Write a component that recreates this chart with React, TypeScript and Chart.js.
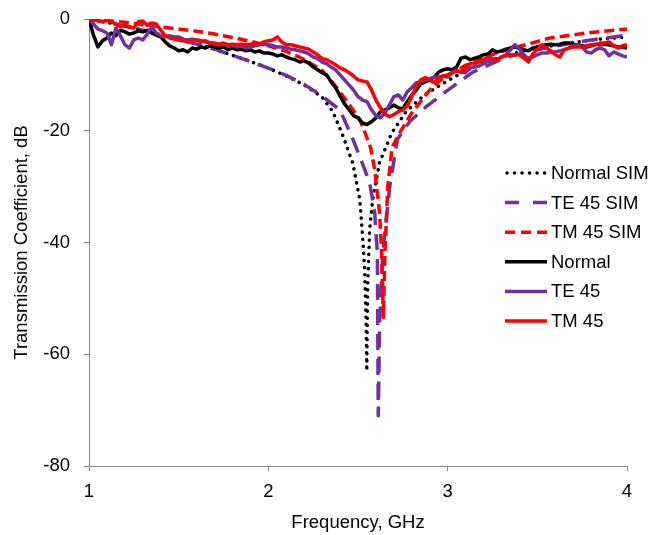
import React, { useEffect, useRef } from "react";
import { Chart, registerables } from "chart.js";
Chart.register(...registerables);

const FONT = "'Liberation Sans', Arial, Helvetica, sans-serif";
const FONT_SIZE = 18.5;

// Axis ticks
const xTickValues = [1, 2, 3, 4];
const yTickValues = [0, -20, -40, -60, -80];

// Simulated curves
const normalSimFreq = [1.0, 1.1, 1.2, 1.3, 1.4, 1.5, 1.6, 1.7, 1.8, 1.9, 2.0, 2.1, 2.2, 2.3, 2.36, 2.41, 2.47, 2.51, 2.526, 2.537, 2.545, 2.549, 2.554, 2.565, 2.582, 2.62, 2.688, 2.77, 2.87, 2.96, 3.08, 3.2, 3.35, 3.5, 3.7, 3.85, 4.0];
const normalSimDb = [0, -0.6, -1.3, -2.0, -2.8, -3.6, -4.5, -5.4, -6.5, -7.6, -8.8, -10.2, -11.8, -14.0, -16.6, -20.4, -25.7, -32.3, -39, -44.8, -53.8, -63, -47.9, -37.7, -32.3, -25.7, -20.4, -16.5, -13.6, -11.8, -9.6, -7.8, -6.3, -5.2, -4.2, -3.6, -3.2];

const teSimFreq = [1.0, 1.1, 1.2, 1.3, 1.4, 1.5, 1.6, 1.7, 1.8, 1.9, 2.0, 2.1, 2.2, 2.3, 2.4, 2.465, 2.52, 2.565, 2.593, 2.608, 2.613, 2.621, 2.638, 2.677, 2.72, 2.79, 2.88, 2.99, 3.14, 3.33, 3.57, 3.8, 4.0];
const teSimDb = [0, -0.6, -1.3, -2.0, -2.8, -3.6, -4.5, -5.4, -6.5, -7.6, -8.8, -10.1, -11.7, -13.8, -16.3, -21, -25.5, -29.3, -34.6, -41.8, -71, -53.8, -41.8, -30, -21.5, -18.3, -15.7, -13, -9.5, -6.8, -5.0, -3.75, -2.9];

const tmSimFreq = [1.0, 1.2, 1.4, 1.6, 1.7, 1.8, 1.9, 2.0, 2.1, 2.2, 2.3, 2.36, 2.44, 2.51, 2.54, 2.57, 2.593, 2.62, 2.632, 2.641, 2.65, 2.666, 2.69, 2.73, 2.8, 2.9, 2.96, 3.1, 3.27, 3.57, 3.8, 4.0];
const tmSimDb = [0, -0.6, -1.4, -2.2, -2.7, -3.3, -4.0, -4.8, -5.8, -7.2, -9.2, -11.4, -14.8, -18, -20.4, -23, -27, -34.6, -41.8, -53.4, -42, -30, -23, -20.5, -16.8, -12.7, -10.9, -8.3, -6.1, -3.4, -2.4, -1.8];

// Measured curves: sweep 1 GHz .. 4 GHz, 121 points
const measStart = 1;
const measStep = 0.025;
const measCount = 121;
const measFreq = Array.from({ length: measCount }, (_, i) => +(measStart + i * measStep).toFixed(3));

const normalDb = [
  0, -2.9, -5.0, -3.9, -3.4, -2.5, -3.0, -2.0, -2.3, -2.7,
  -2.5, -2.1, -2.3, -2.0, -2.5, -2.9, -3.2, -4.1, -4.8, -5.2,
  -5.7, -5.5, -5.9, -5.2, -5.4, -5.0, -5.2, -4.8, -5.0, -5.2,
  -5.0, -5.5, -5.2, -5.5, -5.4, -5.7, -5.5, -5.9, -5.7, -6.1,
  -6.1, -6.25, -6.6, -6.4, -6.8, -7.1, -7.3, -7.7, -7.5, -7.9,
  -8.6, -9.1, -9.6, -10.0, -11.25, -12.3, -13.75, -15.2, -16.25, -17.3,
  -17.7, -18.6, -18.9, -18.4, -17.7, -16.6, -16.25, -15.9, -15.4, -15.9,
  -16.1, -14.8, -13.6, -12.7, -11.6, -11.25, -10.9, -10.4, -9.5, -9.1,
  -8.9, -9.1, -8.6, -7.0, -6.8, -7.3, -7.0, -6.8, -6.4, -6.25,
  -5.5, -5.9, -5.7, -5.4, -5.2, -5.0, -5.2, -5.5, -5.7, -5.2,
  -5.0, -4.8, -4.6, -4.5, -4.6, -4.5, -4.3, -4.3, -4.5, -4.6,
  -4.8, -5.0, -4.8, -4.5, -4.6, -4.5, -4.6, -4.8, -5.0, -5.0,
  -5.2,
];

const te45Db = [
  0, -0.9, -1.8, -2.1, -2.5, -4.6, -1.6, -3.0, -4.6, -5.2,
  -3.75, -3.4, -3.75, -2.7, -1.4, -2.5, -3.0, -3.2, -3.0, -3.2,
  -3.2, -3.6, -3.75, -3.6, -3.75, -3.9, -4.1, -4.3, -4.5, -4.6,
  -4.5, -4.8, -4.6, -5.0, -4.8, -5.2, -5.0, -4.8, -4.6, -4.5,
  -4.6, -4.8, -5.0, -5.0, -5.2, -5.4, -5.5, -5.7, -5.9, -6.25,
  -6.8, -7.1, -7.7, -8.0, -8.6, -9.1, -10.0, -10.9, -11.8, -12.7,
  -13.9, -14.5, -14.8, -16.25, -17.3, -17.7, -16.8, -15.4, -13.9, -13.6,
  -14.5, -13.0, -12.3, -11.4, -11.25, -10.9, -10.7, -10.4, -10.4, -10.2,
  -10.4, -9.5, -9.1, -9.5, -9.6, -8.75, -8.6, -8.4, -8.0, -7.5,
  -7.7, -7.3, -6.8, -6.4, -5.5, -4.6, -5.4, -6.4, -7.1, -6.8,
  -6.4, -6.1, -6.1, -5.9, -5.9, -5.7, -5.5, -5.2, -4.8, -4.6,
  -5.0, -5.9, -6.1, -5.5, -5.2, -5.5, -6.6, -5.9, -6.25, -6.6,
  -6.8,
];

const tm45Db = [
  0, 0, -0.35, -0.5, -0.2, -0.5, -0.9, -1.4, -1.1, -1.4,
  -1.6, -0.5, -0.35, -1.1, -0.7, -0.9, -2.0, -3.0, -3.4, -3.6,
  -3.75, -3.9, -4.1, -3.9, -3.75, -4.1, -3.9, -4.3, -4.3, -4.5,
  -4.3, -4.6, -4.5, -4.6, -4.5, -4.6, -4.5, -4.3, -4.5, -4.1,
  -3.9, -3.75, -3.2, -4.1, -4.6, -4.6, -4.8, -5.0, -5.2, -5.4,
  -5.9, -6.4, -7.1, -7.3, -7.7, -8.2, -8.75, -9.1, -9.6, -10.2,
  -10.9, -11.1, -11.25, -12.7, -14.5, -15.9, -17.0, -17.5, -17.1, -16.6,
  -16.25, -15.5, -13.9, -12.0, -10.9, -10.5, -10.9, -11.4, -10.5, -10.2,
  -10.0, -9.6, -9.3, -9.5, -8.75, -8.0, -7.9, -7.7, -7.3, -6.8,
  -7.1, -7.3, -6.8, -6.6, -6.4, -6.4, -6.4, -7.0, -7.7, -6.25,
  -5.4, -4.6, -5.2, -5.7, -6.4, -6.8, -5.5, -5.2, -5.0, -5.0,
  -5.0, -4.8, -4.6, -4.6, -4.3, -4.3, -4.1, -4.8, -5.2, -4.8,
  -4.6,
];

const seriesLabels = ["Normal SIM", "TE 45 SIM", "TM 45 SIM", "Normal", "TE 45", "TM 45"];
const BLACK = "#000000";
const PURPLE = "#7030A0";
const RED = "#FF0000";
const AXIS = "#868686";

const toPoints = (xs: number[], ys: number[]) => xs.map((x, i) => ({ x, y: ys[i] }));

const legendPlugin = {
  id: "insideLegend",
  afterDraw(chart: any) {
    const ctx = chart.ctx as CanvasRenderingContext2D;
    const ds = chart.data.datasets;
    const x0 = 505, x1 = 547, tx = 551, y0 = 173, dy = 29.6;
    ctx.save();
    ds.forEach((d: any, i: number) => {
      const y = y0 + i * dy;
      ctx.beginPath();
      ctx.setLineDash(d.legendDash || []);
      ctx.lineCap = d.borderCapStyle || "butt";
      ctx.strokeStyle = d.borderColor;
      ctx.lineWidth = d.borderWidth;
      ctx.moveTo(x0 + (d.legendOffset || 0), y);
      ctx.lineTo(x1, y);
      ctx.stroke();
      ctx.setLineDash([]);
      ctx.fillStyle = "#000";
      ctx.font = `${FONT_SIZE}px ${FONT}`;
      ctx.textAlign = "left";
      ctx.textBaseline = "middle";
      ctx.fillText(d.label, tx, y + 1);
    });
    ctx.restore();
  },
};

export default function App() {
  const ref = useRef<HTMLCanvasElement>(null);
  useEffect(() => {
    if (!ref.current) return;
    const chart = new Chart(ref.current, {
      type: "line",
      data: {
        datasets: [
          {
            label: seriesLabels[0],
            data: toPoints(normalSimFreq, normalSimDb),
            borderColor: BLACK,
            borderWidth: 3.5,
            borderDash: [0.1, 7],
            borderCapStyle: "round",
            legendDash: [0.1, 7.4],
            legendOffset: 2,
            order: 5,
          },
          {
            label: seriesLabels[1],
            data: toPoints(teSimFreq, teSimDb),
            borderColor: PURPLE,
            borderWidth: 3.5,
            borderDash: [16, 9],
            legendDash: [14, 14],
            order: 4,
          },
          {
            label: seriesLabels[2],
            data: toPoints(tmSimFreq, tmSimDb),
            borderColor: RED,
            borderWidth: 3.5,
            borderDash: [10, 5],
            legendDash: [10, 6],
            order: 3,
          },
          {
            label: seriesLabels[3],
            data: toPoints(measFreq, normalDb),
            borderColor: BLACK,
            borderWidth: 3.5,
            order: 2,
          },
          {
            label: seriesLabels[4],
            data: toPoints(measFreq, te45Db),
            borderColor: PURPLE,
            borderWidth: 3.5,
            order: 1,
          },
          {
            label: seriesLabels[5],
            data: toPoints(measFreq, tm45Db),
            borderColor: RED,
            borderWidth: 3.5,
            order: 0,
          },
        ] as any,
      },
      options: {
        animation: false,
        responsive: false,
        events: [],
        layout: { padding: { top: 19, right: 35, left: 0, bottom: 0 } },
        elements: {
          point: { radius: 0 },
          line: { tension: 0, borderJoinStyle: "round" },
        },
        plugins: {
          legend: { display: false },
          tooltip: { enabled: false },
        },
        scales: {
          x: {
            type: "linear",
            min: 1,
            max: 4,
            afterBuildTicks: (s: any) => {
              s.ticks = xTickValues.map((v) => ({ value: v }));
            },
            ticks: {
              color: "#000",
              padding: 10,
              font: { family: FONT, size: FONT_SIZE },
            },
            grid: { drawOnChartArea: false, drawTicks: true, tickLength: 5, color: AXIS },
            border: { color: AXIS, width: 1 },
            title: {
              display: true,
              text: "Frequency, GHz",
              color: "#000",
              font: { family: FONT, size: FONT_SIZE },
              padding: { top: 0, bottom: 1 },
            },
            afterFit: (s: any) => {
              s.height = 69;
              s.paddingLeft = 0;
              s.paddingRight = 0;
            },
          },
          y: {
            type: "linear",
            min: -80,
            max: 0,
            afterBuildTicks: (s: any) => {
              s.ticks = yTickValues.map((v) => ({ value: v }));
            },
            ticks: {
              color: "#000",
              padding: 14,
              font: { family: FONT, size: FONT_SIZE },
            },
            grid: { drawOnChartArea: false, drawTicks: true, tickLength: 5, color: AXIS },
            border: { color: AXIS, width: 1 },
            title: {
              display: true,
              text: "Transmission Coefficient, dB",
              color: "#000",
              font: { family: FONT, size: FONT_SIZE },
              padding: { top: 11, bottom: 0 },
            },
            afterFit: (s: any) => {
              s.width = 89;
              s.paddingTop = 0;
              s.paddingBottom = 0;
            },
          },
        },
      } as any,
      plugins: [legendPlugin],
    });
    return () => chart.destroy();
  }, []);

  return (
    <div style={{ position: "absolute", left: 0, top: 0, width: 662, height: 535, background: "#fff" }}>
      <canvas ref={ref} width={662} height={535} style={{ display: "block" }} />
    </div>
  );
}
